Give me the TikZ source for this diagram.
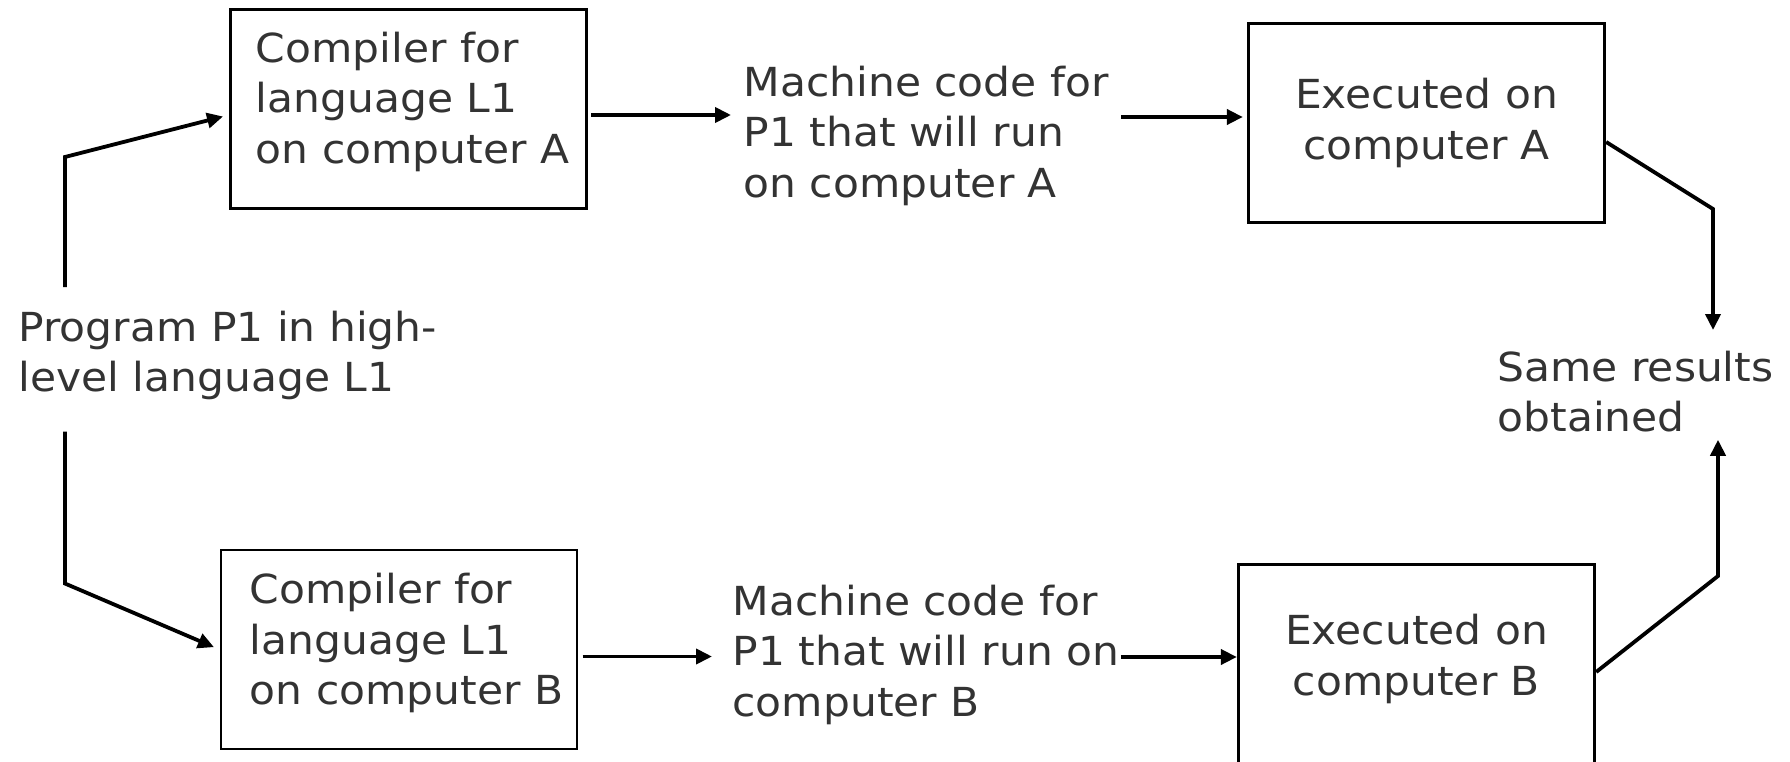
\documentclass[tikz,border=0pt]{standalone}
\usepackage{fontspec}
\setmainfont{DejaVu Sans}[FakeStretch=1.06]
\usepackage{tikz}
\usetikzlibrary{arrows.meta}
\definecolor{txtgray}{HTML}{333333}
% extra depth under the last line, lifts the text inside a box
\newcommand{\padb}[1]{\rule[-#1]{0pt}{0pt}}

\begin{document}
\begin{tikzpicture}[x=1pt,y=-1pt,>={Triangle[length=16pt,width=15pt]},line width=3.3pt,
  every node/.style={font=\fontsize{40}{50.5}\selectfont,text=txtgray,inner sep=0pt},
  box/.style={draw=black,minimum width=356pt,minimum height=199pt,align=left},
  txt/.style={anchor=north west,align=left},
  arr/.style={->,line width=3.8pt}]

\useasboundingbox (0,0) rectangle (1790,762);

\node[box] (C1) at (408.5,109) {\hspace*{8pt}Compiler for\\\hspace*{8pt}language L1\\\hspace*{8pt}on computer A\padb{23pt}};
\node[box, line width=2pt] (C2) at (398.5,649.5) {\hspace*{16pt}Compiler for\\\hspace*{16pt}language L1\\\hspace*{16pt}on computer B\padb{21pt}};

\node[txt] (M1) at (742,64) {Machine code for\\P1 that will run\\on computer A};
\node[txt] (M2) at (731,583) {Machine code for\\P1 that will run on\\computer B};

\node[box, align=center] (E1) at (1426.5,123) {Executed on\\computer A};
\node[box, align=center] (E2) at (1416.5,664) {Executed on\\computer B\padb{18.5pt}};

\node[txt] (P) at (17,309) {Program P1 in high-\\level language L1};
\node[txt] (R) at (1496,349) {Same results\\obtained};

\coordinate (kA) at (1713,209);
\coordinate (kB) at (1718,576);

\draw[arr, shorten >=6pt] ([xshift=48pt,yshift=22pt]P.north west) -- ++(0pt,130pt) -- ([yshift=-6pt]C1.west);
\draw[arr, shorten >=6pt] ([xshift=48pt,yshift=-30pt]P.south west) -- ++(0pt,-152pt) -- (C2.west);

\path ([yshift=-6pt]C1.east) edge[arr, shorten <=3pt, shorten >=11pt] ([yshift=-6pt]C1.east -| M1.west)
      ([yshift=6pt]E1.west -| M1.east) edge[arr, shorten <=11pt, shorten >=4pt] ([yshift=6pt]E1.west)
      ([yshift=-7pt]C2.east) edge[arr, shorten <=5pt, shorten >=19pt] ([yshift=-7pt]C2.east -| M2.west)
      ([yshift=7pt]E2.west -| M2.east) edge[arr] ([yshift=7pt]E2.west);

\draw[arr, shorten >=19pt] ([yshift=-19pt]E1.east) -- (kA) -- (kA |- R.north);
\draw[arr, shorten >=6pt] ([yshift=-8pt]E2.east) -- (kB) -- (kB |- R.south);

\end{tikzpicture}
\end{document}
